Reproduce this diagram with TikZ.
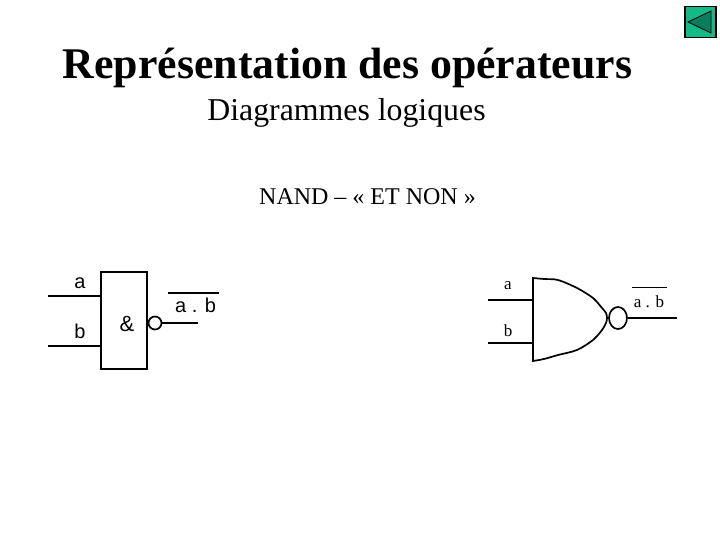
\documentclass[tikz,border=0pt]{standalone}
\usepackage{fontspec}
\setmainfont{Liberation Serif}
\newfontfamily\arialfont{Liberation Sans}
\usetikzlibrary{shapes.geometric}
\definecolor{buttonfill}{RGB}{20,185,135}
\definecolor{buttondark}{RGB}{10,125,95}

\tikzset{
    wire/.style={line width=1.7},
    boxlabel/.style={font=\arialfont\fontsize{20}{20}\selectfont,inner sep=0},
    gatelabel/.style={font=\fontsize{17}{17}\selectfont,inner sep=0},
}

\begin{document}
\begin{tikzpicture}[x=1pt,y=-1pt]
    \useasboundingbox (0,0) rectangle (720,540);

    \node[font=\bfseries\fontsize{43.8}{44}\selectfont,inner sep=0] (title) at (347.5,68) {Représentation des opérateurs};
    \node[font=\fontsize{31.8}{32}\selectfont,inner sep=0] (subtitle) at (346.5,113) {Diagrammes logiques};
    \node[font=\fontsize{24}{24}\selectfont,inner sep=0] (nand) at (367.5,197) {NAND – « ET NON »};

    % button
    \node[shape=rectangle,draw=black,fill=buttonfill,line width=1.2,minimum size=31,inner sep=0] (button) at (700.5,22) {};
    \coordinate (tipa) at (688,22);
    \coordinate (tipb) at (711,11);
    \coordinate (tipc) at (711,33);
    \draw[fill=buttondark,line width=0.8] (tipa) -- (tipb) -- (tipc) -- cycle;

    % left symbol
    \node[shape=rectangle,draw=black,wire,minimum width=46,minimum height=97,inner sep=0] (box) at (124,320.5) {};
    \node[boxlabel,font=\arialfont\fontsize{22}{22}\selectfont] (amp) at (127,324) {\&};
    \node[boxlabel] (la) at (80,283) {a};
    \node[boxlabel] (lb) at (80,331) {b};
    \node[boxlabel] (lab) at (195.5,305) {a . b};
    \node[shape=circle,draw=black,wire,minimum size=13,inner sep=0] (bubbleL) at (155,323) {};
    \coordinate (ina) at (48,296);
    \coordinate (inb) at (48,346);
    \coordinate (boxa) at (101,296);
    \coordinate (boxb) at (101,346);
    \coordinate (outL) at (198,323);
    \coordinate (barL1) at (168,293);
    \coordinate (barL2) at (219,293);

    \path[wire] (ina) edge (boxa);
    \path[wire] (inb) edge (boxb);
    \path[wire] (bubbleL) edge (outL);
    \path[line width=1.7] (barL1) edge (barL2);

    % right symbol
    \coordinate (top) at (533,278);
    \coordinate (bot) at (533,361);
    \draw[wire] plot[smooth,tension=0.5] coordinates {(top) (544,279) (558,280) (577,288) (593,298) (602,308) (606,313) (607,318) (606,323) (602,330) (593,340) (577,350) (558,355) (544,359) (bot)} -- cycle;
    \node[gatelabel] (ra) at (508,286) {a};
    \node[gatelabel] (rb) at (508,331) {b};
    \node[gatelabel] (rab) at (649,302) {a . b};
    \node[shape=ellipse,draw=black,wire,minimum width=18,minimum height=22,inner sep=0] (bubbleR) at (618,318) {};
    \coordinate (ina2) at (488,300);
    \coordinate (inb2) at (488,343);
    \coordinate (gatea) at (533,300);
    \coordinate (gateb) at (533,343);
    \coordinate (outR) at (677,318);
    \coordinate (barR1) at (632,287);
    \coordinate (barR2) at (667,287);

    \path[wire] (ina2) edge (gatea);
    \path[wire] (inb2) edge (gateb);
    \path[wire] (bubbleR) edge (outR);
    \path[line width=1] (barR1) edge (barR2);
\end{tikzpicture}
\end{document}
